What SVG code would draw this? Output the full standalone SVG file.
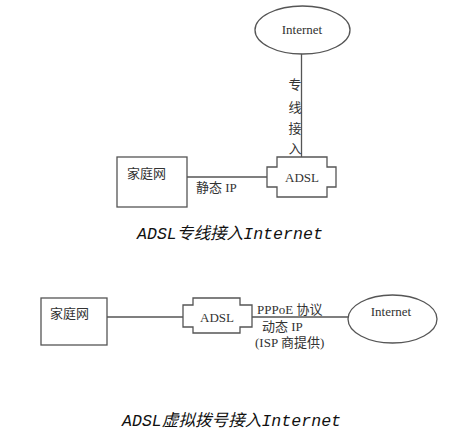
<svg xmlns="http://www.w3.org/2000/svg" width="457" height="435" viewBox="0 0 457 435">
<style>
.s{fill:#fff;stroke:#555;stroke-width:1.3}
.c{stroke:#555;stroke-width:1.3;fill:none}
.t{font-family:"Liberation Serif","Noto Sans CJK SC",serif;font-size:13px;fill:#333}
.cap{font-family:"Liberation Mono","Noto Sans CJK SC",monospace;font-style:italic;font-size:16.6px;fill:#111}
</style>
<rect width="457" height="435" fill="#fff"/>
<g id="connectors">
<line class="c" x1="301.5" y1="53" x2="301.5" y2="157"/>
<line class="c" x1="187" y1="177" x2="267" y2="177"/>
<line class="c" x1="107" y1="317" x2="183" y2="317"/>
<line class="c" x1="252" y1="317" x2="348" y2="317"/>
</g>
<g id="internet1">
<ellipse class="s" cx="302.5" cy="30" rx="47.5" ry="24"/>
<text class="t" x="302" y="34" text-anchor="middle">Internet</text>
</g>
<g id="label1" class="t">
<text x="295" y="89" text-anchor="middle">专</text>
<text x="295" y="112" text-anchor="middle">线</text>
<text x="295" y="133" text-anchor="middle">接</text>
<text x="295" y="153" text-anchor="middle">入</text>
</g>
<g id="home1">
<rect class="s" x="117" y="157" width="70" height="50"/>
<text class="t" x="127" y="178">家庭网</text>
</g>
<text class="t" x="196" y="192">静态 IP</text>
<g id="adsl1">
<path class="s" d="M277,157 H327 V167 H336 V187 H327 V197 H277 V187 H267 V167 H277 Z"/>
<text class="t" x="302" y="182" text-anchor="middle">ADSL</text>
</g>
<text class="cap" x="137" y="239">ADSL专线接入Internet</text>
<g id="home2">
<rect class="s" x="41" y="298" width="66" height="47"/>
<text class="t" x="50" y="318">家庭网</text>
</g>
<g id="adsl2">
<path class="s" d="M193,298 H240 V305 H252 V327 H240 V333 H193 V327 H183 V305 H193 Z"/>
<text class="t" x="217" y="322" text-anchor="middle">ADSL</text>
</g>
<g id="label2" class="t">
<text x="257" y="314">PPPoE 协议</text>
<text x="262" y="331">动态 IP</text>
<text x="255" y="347">(ISP 商提供)</text>
</g>
<g id="internet2">
<ellipse class="s" cx="392.5" cy="319" rx="44.5" ry="24"/>
<text class="t" x="391" y="316" text-anchor="middle">Internet</text>
</g>
<text class="cap" x="122" y="426">ADSL虚拟拨号接入Internet</text>
</svg>
